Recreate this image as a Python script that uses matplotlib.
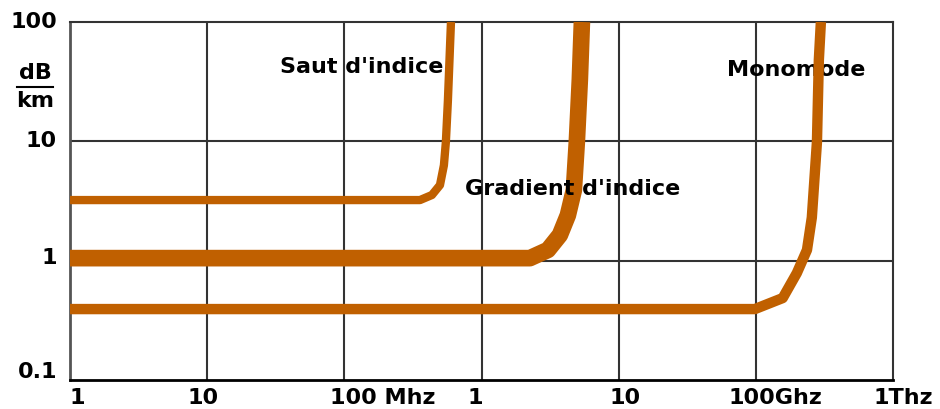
import numpy as np
import matplotlib.pyplot as plt
from matplotlib.lines import Line2D
import matplotlib.transforms as mtransforms

# frequencies in MHz, attenuation in dB/km
saut_f = [1, 356, 435, 498, 532, 550, 569, 599]
saut_a = [3.22, 3.22, 3.55, 4.3, 6.3, 9.9, 22, 100]

grad_f = [1, 2254, 3050, 3727, 4262, 4713, 4955, 5212, 5395]
grad_a = [1.05, 1.05, 1.23, 1.64, 2.4, 3.9, 9.9, 33, 100]

mono_f = [1, 98400, 157000, 199000, 236000, 256000, 279000, 288000, 298000]
mono_a = [0.393, 0.393, 0.486, 0.787, 1.23, 2.3, 9.9, 48, 100]

x_ticks = [1, 10, 100, 1e3, 1e4, 1e5, 1e6]
x_labels = ['1', '10', '100 Mhz', '1', '10', '100Ghz', '1Thz']
x_shift = [7, -4, 38, -6, 6, 20, 10]   # label centre offset, pixels

y_ticks = [100, 10, 1, 0.1]
y_labels = ['100', '10', '1', '0.1']
y_shift = [0, 0, 3, 8]

col = '#C06000'
fnt = {'family': 'DejaVu Sans', 'weight': 'bold', 'size': 16}

fig = plt.figure(figsize=(9.4, 4.09), dpi=100)
ax = fig.add_axes([70/940, 29/409, 823/940, 358/409])
ax.set_xscale('log')
ax.set_yscale('log')
ax.set_xlim(1, 1e6)
ax.set_ylim(0.1, 100)

for xv in x_ticks[1:-1]:
    ax.axvline(xv, color='#333333', lw=1.5, zorder=1)
for yv in y_ticks[1:-1]:
    ax.axhline(yv, color='#333333', lw=1.5, zorder=1)

ax.plot(saut_f, saut_a, color=col, lw=6, solid_joinstyle='round', solid_capstyle='butt', zorder=3)
ax.plot(grad_f, grad_a, color=col, lw=12, solid_joinstyle='round', solid_capstyle='butt', zorder=3)
ax.plot(mono_f, mono_a, color=col, lw=7.5, solid_joinstyle='round', solid_capstyle='butt', zorder=3)

ax.set_xticks([])
ax.set_yticks([])
ax.minorticks_off()
for s in ['top', 'right']:
    ax.spines[s].set_color('#333333')
    ax.spines[s].set_linewidth(1.5)
ax.spines['left'].set_color('#555555')
ax.spines['left'].set_linewidth(2)
ax.spines['bottom'].set_color('black')
ax.spines['bottom'].set_linewidth(2)

# tick labels placed by hand
bx = mtransforms.blended_transform_factory(ax.transData, ax.transAxes)
for xv, lab, dx in zip(x_ticks, x_labels, x_shift):
    off = mtransforms.ScaledTranslation(dx/100, -18/100, fig.dpi_scale_trans)
    ax.text(xv, 0, lab, transform=bx + off, ha='center', va='center', fontdict=fnt, clip_on=False)

by = mtransforms.blended_transform_factory(ax.transAxes, ax.transData)
for yv, lab, dy in zip(y_ticks, y_labels, y_shift):
    off = mtransforms.ScaledTranslation(-13/100, dy/100, fig.dpi_scale_trans)
    ax.text(0, yv, lab, transform=by + off, ha='right', va='center', fontdict=fnt, clip_on=False)

# dB/km unit
fig.text(35/940, 1 - 73/409, 'dB', ha='center', va='center', fontdict=fnt)
fig.text(35/940, 1 - 101/409, 'km', ha='center', va='center', fontdict=fnt)
fig.add_artist(Line2D([17/940, 53/940], [1 - 87/409, 1 - 87/409], color='black', lw=1.5))

# curve names
ax.text(34, 42, "Saut d'indice", fontdict=fnt, ha='left', va='center', zorder=2)
ax.text(757, 4.0, "Gradient d'indice", fontdict=fnt, ha='left', va='center', zorder=4)
ax.text(62000, 39.6, "Monomode", fontdict=fnt, ha='left', va='center', zorder=2)

fig.savefig('out.png', dpi=100)
